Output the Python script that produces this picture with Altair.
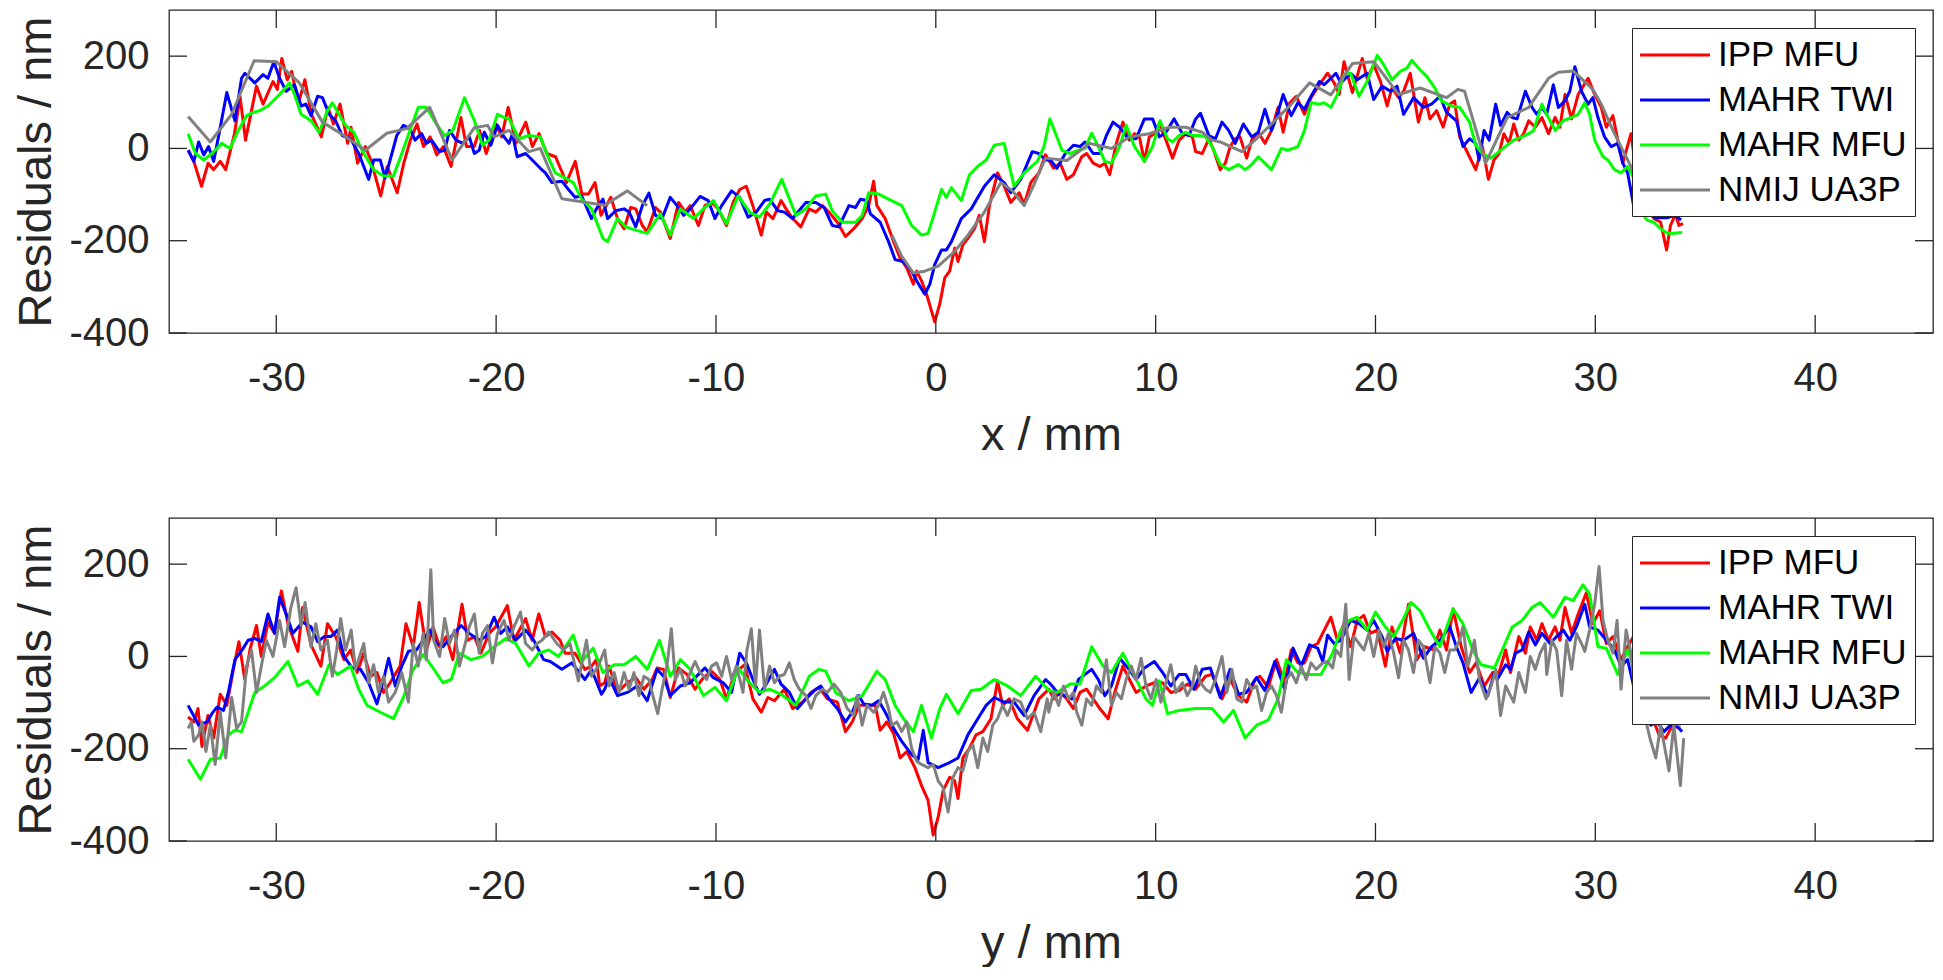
import altair as alt
import pandas as pd

SERIES = ["IPP MFU", "MAHR TWI", "MAHR MFU", "NMIJ UA3P"]
COLORS = ["#ff0000", "#0000ff", "#00ff00", "#808080"]
X_TICKS = [-30, -20, -10, 0, 10, 20, 30, 40]
Y_TICKS = [-400, -200, 0, 200]
X_DOMAIN = [-34.88, 45.36]
Y_DOMAIN = [-400, 300]
X_TITLES = ["x / mm", "y / mm"]
Y_TITLE = "Residuals / nm"

# ---------------- top panel (x profile) ----------------
top_ipp = [(-34.0,-4),(-33.75,-28),(-33.4,-82),(-33.1,-32),(-32.85,-46),(-32.55,-28),(-32.3,-46),(-31.9,32),(-31.65,113),(-31.4,18),(-30.9,135),(-30.6,96),(-30.15,145),(-29.95,128),(-29.75,195),(-29.5,149),(-29.3,167),(-29.0,96),(-28.7,149),(-28.4,74),(-27.95,25),(-27.65,89),(-27.4,53),(-27.1,96),(-26.75,11),(-26.6,46),(-26.3,-32),(-25.95,4),(-25.7,-25),(-25.25,-103),(-24.95,-39),(-24.5,-96),(-24.2,-32),(-23.9,18),(-23.6,53),(-23.3,4),(-23.0,25),(-22.7,-14),(-22.4,4),(-22.05,-39),(-21.6,67),(-21.35,4),(-21.0,4),(-20.75,39),(-20.45,-11),(-20.0,53),(-19.75,25),(-19.45,89),(-19.1,11),(-18.65,57),(-18.35,4),(-18.05,32),(-17.7,-11),(-17.3,-18),(-16.95,-57),(-16.8,-74),(-16.4,-28),(-16.1,-99),(-15.8,-99),(-15.5,-74),
(-15.23,-145),(-14.78,-106),(-14.48,-152),(-14.18,-174),(-13.88,-128),(-13.65,-131),(-13.35,-167),(-13.13,-181),(-12.75,-128),(-12.53,-138),(-12.08,-195),(-11.7,-117),(-11.4,-138),(-11.17,-124),(-10.8,-167),(-10.5,-124),(-10.2,-117),(-9.9,-131),(-9.52,-167),(-9.22,-117),(-8.92,-89),(-8.62,-82),(-8.32,-124),(-7.94,-188),(-7.71,-138),(-7.41,-152),(-7.04,-113),(-6.81,-131),(-6.51,-152),(-6.14,-170),(-5.76,-131),(-5.46,-138),(-5.16,-124),(-4.86,-138),(-4.48,-160),(-4.11,-191),(-3.73,-174),(-3.35,-152),(-3.05,-124),(-2.83,-71),(-2.68,-124),(-2.3,-152),(-2.08,-181),(-1.92,-202),(-1.62,-238),(-1.32,-259),(-1.02,-294),(-0.87,-266),(-0.65,-287),(-0.42,-316),(-0.27,-340),(-0.05,-376),(0.18,-337),(0.41,-280),(0.63,-266),(0.86,-216),(1.01,-245),(1.23,-209),(1.46,-195),(1.76,-174),(1.98,-145),(2.21,-202),(2.44,-124),(2.81,-53),(3.11,-82),(3.41,-117),(3.79,-96),(4.02,-121),(4.32,-74),(4.69,-53),(4.99,-14),
(5.36,-43),(5.66,-32),(5.96,-67),(6.26,-57),(6.64,-18),(6.86,-11),(7.16,-32),(7.46,-39),(7.69,-32),(7.91,-57),(8.21,11),(8.51,57),(8.81,18),(9.04,32),(9.26,25),(9.49,-28),(9.71,25),(9.94,32),(10.17,53),(10.47,18),(10.77,-21),(11.07,18),(11.37,32),(11.67,25),(11.82,-7),(12.12,-11),(12.42,21),(12.64,-4),(12.94,-46),(13.17,-32),(13.39,4),(13.62,21),(13.84,25),(14.14,-21),(14.37,18),(14.67,35),(14.97,11),(15.27,39),(15.57,89),(15.8,35),(16.1,99),(16.4,113),(16.77,74),(17.07,110),(17.45,138),(17.82,163),(18.12,142),(18.35,117),(18.57,188),(18.95,121),(19.4,195),(19.62,152),(19.92,181),(20.23,145),(20.53,92),(20.75,131),(21.05,110),(21.28,124),(21.58,163),(21.95,57),(22.25,110),(22.48,64),(22.78,82),(23.08,46),(23.38,96),(23.6,103),(23.83,25),(24.13,-4),
(24.56,-46),(24.86,4),(25.14,-67),(25.39,-25),(25.62,-11),(25.84,32),(26.07,11),(26.29,53),(26.52,18),(26.74,32),(26.97,60),(27.27,46),(27.57,67),(27.87,32),(28.17,67),(28.39,46),(28.62,117),(28.92,64),(29.22,117),(29.67,152),(29.97,117),(30.27,89),(30.5,46),(30.8,71),(31.02,18),(31.25,-32),(31.62,32),(31.77,-18),(32.1,-80),(32.4,-130),(32.67,-152),(32.97,-160),(33.24,-220),(33.42,-167),(33.65,-142),(33.8,-167),(33.99,-163)]

top_twi = [(-34.01,-4),(-33.75,-28),(-33.53,14),(-33.3,-14),(-33.08,4),(-32.85,-28),(-32.63,25),(-32.25,121),(-31.88,60),(-31.58,152),(-31.43,163),(-30.98,142),(-30.6,160),(-30.38,152),(-30.11,188),(-29.85,152),(-29.55,124),(-29.17,138),(-28.87,92),(-28.65,96),(-28.42,71),(-28.12,113),(-27.9,110),(-27.6,74),(-27.3,60),(-27.0,28),(-26.62,21),(-26.25,-11),(-26.02,-39),(-25.8,-67),(-25.57,-25),(-25.27,-25),(-25.05,-64),(-24.74,-11),(-24.52,28),(-24.22,50),(-23.92,43),(-23.69,18),(-23.39,32),(-23.17,11),(-22.94,18),(-22.57,-7),(-22.34,-4),(-22.12,39),(-21.82,18),(-21.52,11),(-21.22,25),(-20.99,-11),(-20.77,-4),(-20.54,35),(-20.24,7),(-19.94,50),(-19.64,25),(-19.41,11),(-19.26,32),(-19.04,-18),(-18.66,-11),(-18.36,-25),(-17.99,-43),(-17.76,-53),(-17.46,-74),(-17.01,-71),(-16.71,-89),(-16.41,-106),(-16.11,-103),(-15.66,-152),(-15.44,-131),(-15.14,-110),
(-14.93,-152),(-14.56,-135),(-14.18,-131),(-13.95,-138),(-13.65,-170),(-13.35,-124),(-13.05,-97),(-12.75,-145),(-12.45,-152),(-12.08,-106),(-11.77,-124),(-11.47,-145),(-11.17,-131),(-10.72,-104),(-10.35,-113),(-10.05,-152),(-9.74,-124),(-9.29,-92),(-8.92,-106),(-8.54,-149),(-8.17,-138),(-7.79,-113),(-7.56,-110),(-7.19,-135),(-6.89,-138),(-6.51,-152),(-5.91,-117),(-5.46,-117),(-5.08,-128),(-4.71,-167),(-4.41,-170),(-3.95,-124),(-3.65,-128),(-3.43,-110),(-3.13,-113),(-2.98,-142),(-2.53,-160),(-2.15,-202),(-1.85,-241),(-1.47,-245),(-1.1,-266),(-0.87,-287),(-0.5,-316),(-0.27,-294),(-0.05,-252),(0.26,-220),(0.48,-220),(0.71,-202),(1.16,-152),(1.61,-131),(2.21,-82),(2.66,-57),(3.11,-74),(3.41,-96),(3.86,-67),(4.39,-7),(4.69,-11),(4.99,-25),
(5.21,-25),(5.51,-43),(5.89,-11),(6.26,7),(6.56,4),(6.79,14),(7.16,-11),(7.46,-11),(7.76,28),(8.06,57),(8.36,46),(8.74,21),(9.11,21),(9.49,64),(9.86,64),(10.17,25),(10.47,35),(10.84,64),(11.22,32),(11.52,28),(11.82,64),(12.04,76),(12.42,28),(12.72,21),(13.02,57),(13.32,39),(13.62,11),(13.99,53),(14.37,25),(14.67,35),(14.97,85),(15.27,39),(15.5,67),(15.8,117),(16.17,71),(16.47,99),(16.77,85),(17.07,113),(17.45,145),(17.67,138),(18.2,163),(18.42,142),(18.87,163),(19.17,149),(19.62,163),(19.92,106),(20.3,135),(20.68,124),(20.98,135),(21.28,74),(21.73,110),(22.18,89),(22.55,96),(22.93,113),(23.23,78),(23.68,60),(23.98,4),(24.28,21),
(24.56,11),(24.71,-25),(24.94,39),(25.17,18),(25.47,96),(25.69,50),(25.99,78),(26.22,67),(26.44,64),(26.82,124),(27.12,89),(27.34,74),(27.57,89),(27.79,74),(28.09,138),(28.32,89),(28.62,103),(28.84,124),(29.07,177),(29.37,124),(29.67,96),(29.89,110),(30.12,67),(30.42,25),(30.72,4),(31.02,11),(31.25,-32),(31.47,-53),(31.77,-131),(32.1,-135),(32.4,-140),(32.7,-150),(33.0,-150),(33.3,-150),(33.6,-145),(33.9,-155)]

top_mfu = [(-34.01,32),(-33.68,-11),(-33.3,-25),(-32.93,-11),(-32.48,11),(-32.1,0),(-31.73,39),(-31.35,71),(-31.05,78),(-30.75,82),(-30.38,92),(-29.85,117),(-29.4,142),(-29.17,117),(-28.87,74),(-28.42,60),(-28.05,35),(-27.67,82),(-27.45,99),(-27.15,74),(-26.85,50),(-26.47,35),(-26.1,-4),(-25.57,-46),(-25.12,-60),(-24.67,-60),(-24.29,-11),(-23.92,39),(-23.54,89),(-23.17,89),(-22.72,53),(-22.34,28),(-21.97,39),(-21.44,110),(-20.99,60),(-20.62,7),(-20.32,18),(-19.94,74),(-19.64,67),(-19.41,64),(-18.96,21),(-18.51,28),(-17.99,25),(-17.76,-4),(-17.31,-53),(-16.86,-64),(-16.49,-74),(-16.11,-110),(-15.66,-131),(-15.14,-195),
(-14.93,-202),(-14.48,-152),(-14.11,-170),(-13.65,-177),(-13.13,-184),(-12.53,-142),(-12.08,-188),(-11.62,-131),(-11.02,-152),(-10.57,-131),(-10.12,-113),(-9.52,-163),(-8.99,-103),(-8.47,-138),(-8.02,-149),(-7.56,-121),(-7.01,-67),(-6.36,-145),(-5.91,-131),(-5.46,-103),(-5.01,-99),(-4.71,-135),(-4.26,-160),(-3.65,-160),(-3.35,-145),(-3.05,-96),(-2.6,-99),(-2.15,-110),(-1.55,-124),(-1.1,-167),(-0.65,-188),(-0.35,-184),(-0.05,-138),(0.26,-89),(0.48,-106),(0.71,-85),(1.16,-113),(1.53,-57),(1.91,-39),(2.29,-25),(2.66,7),(3.11,11),(3.56,-82),(4.02,-53),(4.62,-28),(4.92,4),(5.19,64),
(5.74,-4),(6.11,-11),(6.49,-4),(6.79,0),(7.09,33),(7.39,4),(7.69,-28),(7.99,-32),(8.36,4),(8.66,50),(9.04,4),(9.49,-28),(9.86,4),(10.2,60),(10.54,21),(10.77,14),(11.07,28),(11.37,35),(11.67,28),(11.97,28),(12.27,25),(12.57,4),(12.94,-35),(13.32,-46),(13.77,-35),(14.07,-46),(14.37,-35),(14.67,-18),(15.27,-46),(15.72,0),(16.02,-4),(16.47,4),(16.77,39),(17.07,99),(17.45,96),(17.67,99),(17.97,89),(18.27,117),(18.57,160),(18.87,163),(19.25,113),(19.62,145),(20.08,202),(20.38,181),(20.75,149),(21.13,167),(21.43,174),(21.65,191),(22.03,170),(22.33,156),(22.7,131),(23.0,103),(23.45,92),(23.83,89),(24.28,57),
(24.56,7),(24.86,-11),(25.24,-21),(25.62,-7),(25.99,7),(26.29,18),(26.67,25),(26.97,32),(27.19,39),(27.57,96),(27.79,74),(28.17,39),(28.54,60),(28.92,67),(29.22,74),(29.52,99),(29.74,74),(29.97,18),(30.35,-18),(30.57,-25),(30.87,-46),(31.17,-53),(31.47,-39),(31.77,-67),(32.07,-138),(32.37,-156),(32.67,-160),(32.97,-174),(33.27,-184),(33.57,-184),(33.95,-182)]

top_nmij_a = [(-34.01,69),(-33.0,14),(-32.03,74),(-31.01,190),(-30.0,188),(-28.95,142),(-27.9,57),(-26.92,28),(-25.95,-4),(-24.97,33),(-24.07,43),(-23.02,89),(-22.0,-25),(-20.99,45),(-20.39,50),(-20.09,25),(-19.41,39),(-18.51,-7),(-17.99,0),(-17.01,-109),(-15.06,-123),(-14.03,-92),(-13.13,-124)]

top_nmij_b = [(-2.0,-188),(-1.55,-234),(-1.02,-270),(-0.5,-266),(0.11,-255),(0.86,-223),(1.46,-188),(2.21,-138),(2.96,-74),(3.49,-92),(4.02,-124),(4.47,-78),(4.99,-21),(5.96,-26),(7.01,11),(7.99,0),(8.81,25),(9.71,32),(10.62,46),(11.37,46),(12.12,35),(12.57,18),(12.94,14),(13.92,-7),(14.52,18),(15.27,53),(16.17,96),(17.0,142),(17.97,116),(18.95,184),(19.92,188),(21.05,117),(22.03,131),(23.23,110),(23.75,128),(24.05,124),(24.58,39),(25.01,-32),(25.99,67),(26.97,89),(27.87,152),(28.32,165),(28.99,168),(29.89,128),(30.27,96),(30.87,32),(31.62,-39),(32.3,-130)]

# ---------------- bottom panel (y profile) ----------------
bot_ipp = [(-34.01,-131),(-33.75,-142),(-33.56,-113),(-33.38,-195),(-33.11,-128),(-32.85,-177),(-32.55,-82),(-32.25,-106),(-31.95,-28),(-31.7,32),(-31.43,-50),(-31.2,14),(-30.9,67),(-30.68,0),(-30.38,74),(-30.08,50),(-29.77,142),(-29.47,71),(-29.02,11),(-28.8,106),(-28.42,25),(-27.97,-21),(-27.67,71),(-27.3,43),(-26.92,-7),(-26.62,14),(-26.32,-35),(-26.02,7),(-25.72,-43),(-25.42,-35),(-25.12,-78),(-24.82,-57),(-24.37,-21),(-24.1,71),(-23.77,21),(-23.5,117),(-23.17,14),(-22.87,64),(-22.57,21),(-22.27,43),(-21.97,-7),(-21.55,113),(-21.29,35),(-20.99,43),(-20.69,7),(-20.32,50),(-20.02,64),(-19.49,110),(-19.19,35),(-18.66,82),(-18.36,35),(-18.06,92),(-17.76,43),(-17.46,53),(-17.09,35),(-16.86,7),(-16.41,7),(-15.96,-28),(-15.66,-21),(-15.44,-7),(-15.29,-64),(-15.06,-57),
(-14.86,-21),(-14.48,-78),(-14.03,-57),(-13.65,-46),(-13.28,-71),(-12.9,-50),(-12.68,-25),(-12.38,-28),(-12.08,-89),(-11.7,-25),(-11.32,-39),(-10.95,-71),(-10.57,-46),(-10.2,-32),(-9.82,-50),(-9.52,-92),(-9.14,-35),(-8.69,-18),(-8.32,-92),(-7.94,-121),(-7.64,-89),(-7.34,-96),(-6.89,-71),(-6.51,-113),(-6.06,-99),(-5.68,-78),(-5.31,-67),(-4.93,-92),(-4.48,-99),(-4.11,-163),(-3.8,-142),(-3.5,-106),(-3.13,-106),(-2.75,-106),(-2.53,-160),(-2.23,-142),(-1.92,-167),(-1.62,-220),(-1.32,-206),(-0.95,-241),(-0.65,-280),(-0.35,-312),(-0.12,-387),(0.11,-348),(0.33,-291),(0.63,-262),(0.86,-270),(1.01,-308),(1.23,-220),(1.53,-199),(1.83,-170),(2.14,-163),(2.51,-135),(2.81,-53),(3.04,-106),(3.34,-92),(3.71,-135),(4.17,-160),(4.47,-121),(4.69,-92),(5.14,-71),
(5.36,-92),(5.66,-78),(5.96,-92),(6.26,-113),(6.56,-78),(6.86,-71),(7.16,-92),(7.46,-113),(7.84,-135),(8.14,-78),(8.51,-21),(8.81,-50),(9.11,-78),(9.56,-64),(9.94,-57),(10.32,-57),(10.69,-78),(11.07,-74),(11.44,-60),(11.82,-71),(12.27,-43),(12.57,-39),(13.02,-92),(13.39,-50),(13.77,-85),(14.14,-99),(14.52,-50),(14.74,-43),(15.12,-67),(15.5,-7),(15.87,-57),(16.17,14),(16.47,-14),(16.77,-14),(17.07,21),(17.37,28),(17.67,57),(17.97,85),(18.27,35),(18.57,71),(18.87,21),(19.17,78),(19.47,89),(19.77,50),(20.08,57),(20.45,-21),(20.75,64),(21.13,7),(21.5,113),(21.88,-7),(22.25,21),(22.63,14),(22.93,57),(23.23,14),(23.53,103),(23.9,21),(24.28,-35),(24.58,-14),(24.95,-64),(25.33,-35),
(25.62,-35),(25.92,14),(26.14,-35),(26.52,43),(26.82,7),(27.04,64),(27.34,35),(27.57,71),(27.87,35),(28.17,64),(28.39,35),(28.62,106),(28.92,50),(29.22,92),(29.59,138),(29.89,71),(30.2,99),(30.5,28),(30.8,43),(31.17,-7),(31.47,21),(31.74,43),(32.1,-60),(32.4,-130),(32.67,-142),(32.9,-170),(33.2,-177),(33.5,-150),(33.87,-156)]

bot_twi = [(-34.01,-106),(-33.53,-149),(-33.15,-142),(-32.93,-124),(-32.7,-110),(-32.4,-117),(-32.18,-78),(-31.88,-7),(-31.5,18),(-31.28,35),(-30.98,39),(-30.68,32),(-30.38,92),(-30.08,50),(-29.85,128),(-29.55,92),(-29.25,50),(-28.8,74),(-28.42,64),(-28.12,32),(-27.82,43),(-27.52,43),(-27.22,57),(-26.92,0),(-26.55,-25),(-26.17,-28),(-25.8,-57),(-25.42,-103),(-25.12,-50),(-24.89,-4),(-24.59,-64),(-24.29,-21),(-23.99,11),(-23.62,14),(-23.32,35),(-23.02,57),(-22.72,28),(-22.42,21),(-22.04,43),(-21.59,67),(-21.22,50),(-20.77,35),(-20.47,43),(-20.09,85),(-19.79,50),(-19.49,64),(-19.11,35),(-18.66,57),(-18.29,35),(-17.84,-7),(-17.54,-11),(-17.01,-28),(-16.56,-14),(-16.26,-32),(-15.96,-50),(-15.66,-28),(-15.21,-82),(-15.06,-71),
(-14.86,-46),(-14.48,-85),(-14.03,-78),(-13.58,-64),(-13.13,-96),(-12.68,-28),(-12.38,-43),(-12.08,-85),(-11.62,-64),(-11.17,-57),(-10.72,-35),(-10.5,-25),(-10.12,-46),(-9.67,-57),(-9.29,-78),(-8.92,7),(-8.62,-14),(-8.32,-50),(-8.02,-82),(-7.71,-60),(-7.34,-28),(-7.04,-60),(-6.66,-78),(-6.29,-113),(-5.91,-92),(-5.53,-74),(-5.23,-64),(-4.86,-92),(-4.48,-113),(-4.11,-142),(-3.8,-121),(-3.5,-85),(-3.28,-103),(-2.9,-106),(-2.6,-96),(-2.3,-121),(-1.92,-156),(-1.55,-184),(-1.1,-213),(-0.8,-223),(-0.57,-160),(-0.35,-230),(0.11,-241),(0.63,-230),(1.01,-220),(1.46,-170),(1.91,-135),(2.29,-106),(2.66,-89),(3.11,-99),(3.56,-99),(4.02,-128),(4.47,-85),(4.99,-50),(5.22,-60),
(5.29,-64),(5.59,-82),(5.89,-85),(6.19,-92),(6.49,-50),(6.79,-39),(7.09,-28),(7.39,-50),(7.69,-85),(7.99,-64),(8.36,-4),(8.74,-25),(9.11,-50),(9.49,-25),(9.94,-11),(10.32,-35),(10.69,-64),(11.07,-39),(11.37,-39),(11.74,-71),(12.12,-28),(12.49,-25),(12.94,-89),(13.39,-28),(13.77,-82),(14.14,-78),(14.59,-46),(14.97,-74),(15.42,-11),(15.87,-71),(16.25,18),(16.62,-21),(17.0,25),(17.37,18),(17.6,-11),(17.82,46),(18.12,28),(18.42,35),(18.87,78),(19.25,71),(19.62,57),(19.92,78),(20.3,43),(20.53,11),(20.9,39),(21.28,35),(21.73,50),(22.18,-4),(22.55,21),(22.93,35),(23.38,64),(23.68,21),(23.98,-14),(24.35,-78),(24.73,-46),(25.11,-85),(25.41,-35),
(25.54,-50),(25.92,-18),(26.14,-28),(26.37,7),(26.67,14),(26.97,53),(27.27,25),(27.57,50),(27.94,28),(28.24,43),(28.54,57),(28.84,35),(29.14,64),(29.52,113),(29.74,64),(30.12,57),(30.5,35),(30.87,14),(31.17,-21),(31.47,-7),(31.74,-64),(32.1,-110),(32.52,-149),(32.82,-142),(33.12,-163),(33.42,-149),(33.72,-152),(33.95,-163)]

bot_mfu = [(-34.01,-223),(-33.45,-266),(-33.0,-223),(-32.55,-220),(-32.18,-170),(-31.88,-160),(-31.58,-163),(-31.28,-121),(-30.98,-78),(-30.53,-64),(-30.08,-46),(-29.47,-11),(-29.02,-64),(-28.57,-53),(-28.12,-82),(-27.6,-18),(-27.22,-39),(-26.62,-21),(-26.25,-71),(-25.87,-106),(-25.27,-121),(-24.67,-135),(-24.22,-89),(-23.77,-28),(-23.32,4),(-22.87,-25),(-22.42,-57),(-22.04,-50),(-21.67,7),(-21.14,-7),(-20.62,0),(-20.17,18),(-19.56,39),(-19.11,28),(-18.51,-21),(-18.06,7),(-17.61,14),(-17.16,0),(-16.49,46),(-16.11,-11),(-15.59,18),(-15.14,-35),
(-14.63,-18),(-14.18,-18),(-13.65,0),(-13.13,-28),(-12.57,35),(-12.08,-43),(-11.62,-7),(-11.17,-28),(-10.57,-85),(-10.05,-67),(-9.52,-96),(-8.99,-25),(-8.47,-57),(-8.02,-78),(-7.56,-71),(-7.04,-82),(-6.36,-106),(-5.76,-43),(-5.31,-28),(-5.01,-32),(-4.56,-78),(-3.95,-96),(-3.35,-85),(-2.68,-32),(-2.3,-50),(-1.85,-106),(-1.47,-135),(-1.02,-163),(-0.65,-106),(-0.2,-177),(0.18,-113),(0.48,-82),(1.01,-124),(1.61,-74),(2.06,-71),(2.66,-50),(3.26,-64),(3.86,-85),(4.54,-43),(5.14,-74),
(5.51,-78),(6.11,-60),(6.56,-60),(7.09,21),(7.61,-21),(7.99,-35),(8.51,7),(8.96,-35),(9.56,-92),(9.86,-106),(10.17,-53),(10.54,-124),(11.07,-117),(11.82,-113),(12.57,-113),(13.09,-142),(13.54,-117),(14.07,-177),(14.59,-149),(15.12,-138),(15.57,-92),(15.95,-7),(16.47,-35),(17.0,-39),(17.52,-39),(18.05,7),(18.42,57),(18.8,78),(19.17,85),(19.62,57),(20.0,96),(20.45,64),(20.83,43),(21.28,82),(21.61,117),(22.03,99),(22.48,57),(22.93,21),(23.53,103),(23.98,71),(24.43,14),(24.8,-18),(25.41,-25),
(25.77,14),(26.22,64),(26.67,78),(27.12,106),(27.49,117),(28.09,85),(28.62,128),(28.99,121),(29.44,155),(29.74,135),(30.12,21),(30.5,18),(31.02,-39),(31.47,14),(31.74,-21),(32.2,-100),(32.6,-125),(33.0,-140),(33.5,-145),(33.9,-148)]

bot_nmij = [(-34.01,-156),(-33.86,-142),(-33.75,-184),(-33.53,-170),(-33.38,-142),(-33.2,-206),(-33.0,-149),(-32.78,-234),(-32.55,-121),(-32.3,-220),(-32.03,-89),(-31.8,-156),(-31.58,-142),(-31.35,-21),(-31.13,14),(-30.9,-78),(-30.68,-21),(-30.45,35),(-30.15,0),(-29.85,78),(-29.62,21),(-29.35,103),(-29.1,149),(-28.87,67),(-28.69,117),(-28.42,21),(-28.2,71),(-27.97,14),(-27.67,35),(-27.45,-43),(-27.25,14),(-27.07,82),(-26.85,14),(-26.59,57),(-26.4,-28),(-26.02,28),(-25.8,-57),(-25.57,-18),(-25.35,-78),(-25.12,-43),(-24.89,-99),(-24.59,-78),(-24.29,-35),(-23.99,-99),(-23.77,28),(-23.54,-21),(-23.32,50),(-23.17,-7),(-22.97,188),(-22.84,35),(-22.57,0),(-22.34,82),(-22.12,28),(-21.89,57),(-21.67,-21),(-21.44,21),(-21.22,64),(-20.99,92),(-20.77,7),(-20.62,50),(-20.39,67),(-20.17,-14),(-19.94,50),(-19.64,78),(-19.41,35),(-19.19,64),(-18.89,96),(-18.66,28),(-18.36,14),(-18.14,28),(-17.91,35),(-17.61,53),(-17.24,28),(-16.94,14),(-16.64,28),(-16.26,-53),(-15.89,35),(-15.66,-43),(-15.36,-21),(-15.06,14),
(-14.86,-64),(-14.63,-35),(-14.41,-78),(-14.18,-35),(-13.95,-71),(-13.73,-35),(-13.5,-85),(-13.28,-43),(-13.05,-50),(-12.83,-92),(-12.65,-124),(-12.45,-71),(-12.23,-21),(-12.03,60),(-11.85,-50),(-11.62,-28),(-11.4,-64),(-11.17,-35),(-10.95,-11),(-10.72,-35),(-10.42,-50),(-10.2,-21),(-9.97,-14),(-9.74,-43),(-9.52,0),(-9.29,-50),(-9.07,-21),(-8.77,-78),(-8.59,14),(-8.39,60),(-8.2,-64),(-8.02,57),(-7.79,-71),(-7.56,-21),(-7.34,-57),(-7.11,-43),(-6.89,-39),(-6.66,-14),(-6.44,-50),(-6.21,-71),(-5.91,-85),(-5.68,-113),(-5.46,-85),(-5.16,-71),(-4.93,-78),(-4.63,-60),(-4.33,-78),(-4.03,-113),(-3.73,-128),(-3.58,-85),(-3.35,-149),(-3.13,-106),(-2.83,-121),(-2.6,-106),(-2.38,-78),(-2.15,-113),(-2.0,-149),(-1.77,-142),(-1.55,-163),(-1.32,-142),(-1.1,-199),(-0.87,-227),(-0.65,-234),(-0.35,-241),(-0.12,-234),(0.11,-270),(0.33,-284),(0.56,-337),(0.78,-262),(1.01,-241),(1.23,-248),(1.46,-206),(1.68,-191),(1.91,-241),(2.14,-177),(2.36,-206),(2.59,-149),(2.81,-135),(3.04,-106),(3.26,-128),(3.56,-92),(3.86,-99),(4.17,-135),(4.47,-121),(4.77,-163),(5.07,-92),
(5.14,-121),(5.36,-78),(5.59,-106),(5.81,-64),(6.04,-92),(6.26,-78),(6.41,-121),(6.64,-149),(6.86,-92),(7.09,-106),(7.31,-64),(7.54,-78),(7.76,-7),(7.99,-106),(8.21,-78),(8.44,-92),(8.66,-50),(8.89,-21),(9.11,-50),(9.34,-4),(9.56,-64),(9.79,-92),(10.02,-50),(10.24,-99),(10.47,-57),(10.69,-18),(10.92,-78),(11.22,-57),(11.44,-85),(11.67,-64),(11.82,-21),(12.04,-57),(12.27,-71),(12.49,-78),(12.72,-50),(13.02,0),(13.24,-78),(13.47,-28),(13.69,-92),(13.92,-99),(14.14,-50),(14.37,-71),(14.59,-64),(14.82,-117),(15.05,-78),(15.27,-64),(15.5,-85),(15.72,-121),(15.95,-50),(16.17,-35),(16.4,-57),(16.62,-21),(16.85,-50),(17.07,-14),(17.3,-28),(17.6,-14),(17.82,-11),(18.05,-25),(18.2,14),(18.42,0),(18.65,113),(18.8,-50),(19.02,43),(19.25,28),(19.47,14),(19.7,50),(19.92,0),(20.15,57),(20.38,21),(20.6,50),(20.83,7),(21.05,-46),(21.28,35),(21.5,14),(21.73,-35),(21.95,35),(22.18,21),(22.48,-57),(22.7,21),(22.93,7),(23.15,-35),(23.38,14),(23.6,14),(23.83,35),(23.98,64),(24.2,-21),(24.5,35),(24.73,-50),(25.03,-92),(25.26,-64),(25.48,-28),
(25.69,-128),(25.92,-64),(26.14,-85),(26.29,-99),(26.52,-35),(26.82,-78),(27.04,0),(27.27,-28),(27.49,7),(27.72,28),(27.79,-39),(28.02,35),(28.24,14),(28.47,-85),(28.69,35),(28.92,-28),(29.14,50),(29.37,28),(29.52,11),(29.74,57),(29.97,113),(30.17,195),(30.35,78),(30.57,35),(30.8,7),(30.99,78),(31.17,-71),(31.4,57),(31.62,7),(31.74,-50),(32.2,-120),(32.5,-180),(32.75,-220),(32.97,-149),(33.35,-248),(33.57,-149),(33.87,-280),(34.02,-177)]


def rows(name, seg, pts):
    return [{"series": name, "seg": seg, "x": x, "y": y} for x, y in pts]


top_df = pd.DataFrame(
    rows(SERIES[0], "r", top_ipp) + rows(SERIES[1], "b", top_twi)
    + rows(SERIES[2], "g", top_mfu) + rows(SERIES[3], "k1", top_nmij_a)
    + rows(SERIES[3], "k2", top_nmij_b)
)
bot_df = pd.DataFrame(
    rows(SERIES[0], "r", bot_ipp) + rows(SERIES[1], "b", bot_twi)
    + rows(SERIES[2], "g", bot_mfu) + rows(SERIES[3], "k1", bot_nmij)
)

W, H = 1764, 323
FONT = "Liberation Sans"
INK = "#262626"
TICK = 18


def panel(df, xtitle):
    xs = alt.Scale(domain=X_DOMAIN, nice=False, zero=False)
    ys = alt.Scale(domain=Y_DOMAIN, nice=False, zero=False)
    xa = alt.Axis(values=X_TICKS, title=xtitle, labelPadding=25, titlePadding=14)
    ya = alt.Axis(values=Y_TICKS, title=Y_TITLE, labelPadding=20, titlePadding=8)
    lines = alt.Chart(df).mark_line(strokeWidth=3, strokeJoin="round").encode(
        x=alt.X("x:Q", scale=xs, axis=xa),
        y=alt.Y("y:Q", scale=ys, axis=ya),
        color=alt.Color(
            "series:N", sort=SERIES,
            scale=alt.Scale(domain=SERIES, range=COLORS),
            legend=alt.Legend(
                title=None, orient="top-right", offset=18,
                symbolType="M-2,0H2", symbolSize=1225, symbolStrokeWidth=3,
                symbolOffset=16,
                labelFont=FONT, labelFontSize=35, labelColor="#000000",
                labelOffset=24, labelLimit=400, rowPadding=8, padding=8,
                strokeColor=INK, fillColor="#ffffff",
            ),
        ),
        detail="seg:N",
    )
    xt = pd.DataFrame({"x": X_TICKS})
    yt = pd.DataFrame({"y": Y_TICKS})
    tb = alt.Chart(xt).mark_rule(color=INK, strokeWidth=1.3).encode(
        x=alt.X("x:Q", scale=xs, axis=xa), y=alt.value(H), y2=alt.value(H - TICK))
    tt = alt.Chart(xt).mark_rule(color=INK, strokeWidth=1.3).encode(
        x=alt.X("x:Q", scale=xs, axis=xa), y=alt.value(0), y2=alt.value(TICK))
    tl = alt.Chart(yt).mark_rule(color=INK, strokeWidth=1.3).encode(
        y=alt.Y("y:Q", scale=ys, axis=ya), x=alt.value(0), x2=alt.value(TICK))
    tr = alt.Chart(yt).mark_rule(color=INK, strokeWidth=1.3).encode(
        y=alt.Y("y:Q", scale=ys, axis=ya), x=alt.value(W), x2=alt.value(W - TICK))
    return alt.layer(lines, tb, tt, tl, tr).properties(width=W, height=H)


chart = alt.vconcat(
    panel(top_df, X_TITLES[0]),
    panel(bot_df, X_TITLES[1]),
    spacing=185,
    bounds="flush",
    padding={"left": 4, "top": 0, "right": 0, "bottom": 0},
).resolve_scale(color="independent").resolve_legend(color="independent").configure_view(
    stroke=INK, strokeWidth=1.3
).configure_axis(
    labelFont=FONT, labelFontSize=40, labelColor=INK,
    titleFont=FONT, titleFontSize=47, titleFontWeight="normal", titleColor=INK,
    ticks=False, domain=False, grid=False,
    labelExpr="'' + datum.value", labelFlush=False, labelOverlap=False,
)

chart.save("out.html", embed_options={"renderer": "svg", "actions": False})
